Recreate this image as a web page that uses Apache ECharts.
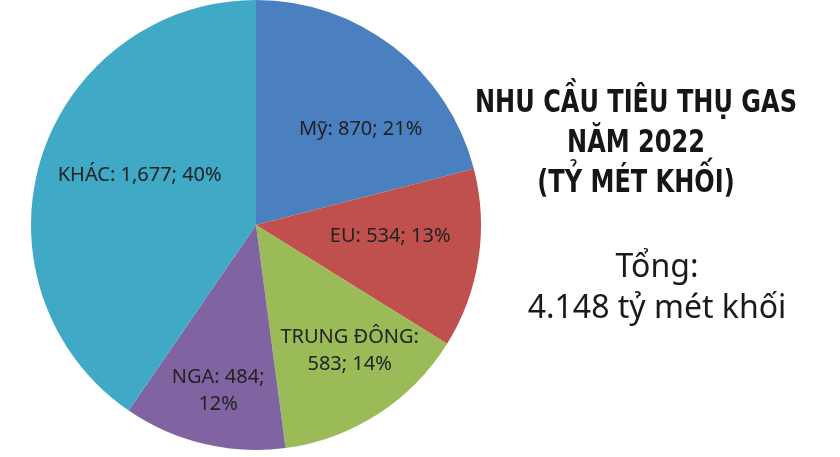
<!DOCTYPE html>
<html><head><meta charset="utf-8">
<script src="https://cdn.jsdelivr.net/npm/echarts@6/dist/echarts.min.js"></script>
<style>html,body{margin:0;padding:0;background:#fff}#c{width:840px;height:457px}</style>
</head><body><div id="c"></div>
<script>
const regions = ['Mỹ', 'EU', 'TRUNG ĐÔNG', 'NGA', 'KHÁC'];
const demand = [870, 534, 583, 484, 1677];
const colors = ['#4a7fc0', '#c0504d', '#9bbb59', '#8064a2', '#3fa9c6'];
const titleLines = ['NHU CẦU TIÊU THỤ GAS', 'NĂM 2022', '(TỶ MÉT KHỐI)'];
const totalLines = ['Tổng:', '4.148 tỷ mét khối'];
// label nudges from the slice's inside position (label layout only)
const labelShift = [[34, -4], [20, -6], [31, 29], [-11, 53], [-6, -15]];
const wrapAfter = {2: 'name', 3: 'value'};

const titleFont = "bold 32px 'DejaVu Sans'";
const cv = document.createElement('canvas').getContext('2d');
cv.font = titleFont;
const titleScale = 322 / cv.measureText(titleLines[0]).width;

const chart = echarts.init(document.getElementById('c'), null, {renderer: 'canvas'});
function fmt(p) {
  const v = p.value.toLocaleString('en-US');
  const pc = Math.round(p.percent) + '%';
  if (wrapAfter[p.dataIndex] === 'name') return p.name + ':\n' + v + '; ' + pc;
  if (wrapAfter[p.dataIndex] === 'value') return p.name + ': ' + v + ';\n' + pc;
  return p.name + ': ' + v + '; ' + pc;
}
chart.setOption({
  animation: false,
  graphic: [{
    type: 'text', x: 636, y: 84, scaleX: titleScale,
    style: {text: titleLines.join('\n'), font: titleFont, lineHeight: 40, align: 'center', verticalAlign: 'top', fill: '#161616'}
  }],
  title: [{
    text: totalLines.join('\n'),
    left: 652, top: 242, textAlign: 'center',
    textStyle: {fontFamily: "'Noto Sans',sans-serif", fontWeight: 'normal', fontSize: 32, lineHeight: 41, color: '#1a1a1a'}
  }],
  series: [{
    type: 'pie',
    center: [256, 225],
    radius: 225,
    startAngle: 90,
    clockwise: true,
    avoidLabelOverlap: false,
    itemStyle: {borderWidth: 0},
    label: {
      position: 'inside', formatter: fmt, color: '#222',
      fontFamily: "'Noto Sans',sans-serif", fontSize: 20, lineHeight: 27, align: 'center'
    },
    labelLine: {show: false},
    emphasis: {disabled: true},
    labelLayout: function (p) { const s = labelShift[p.dataIndex]; return {dx: s[0], dy: s[1]}; },
    data: regions.map((n, i) => ({name: n, value: demand[i], itemStyle: {color: colors[i]}}))
  }]
});
</script></body></html>
